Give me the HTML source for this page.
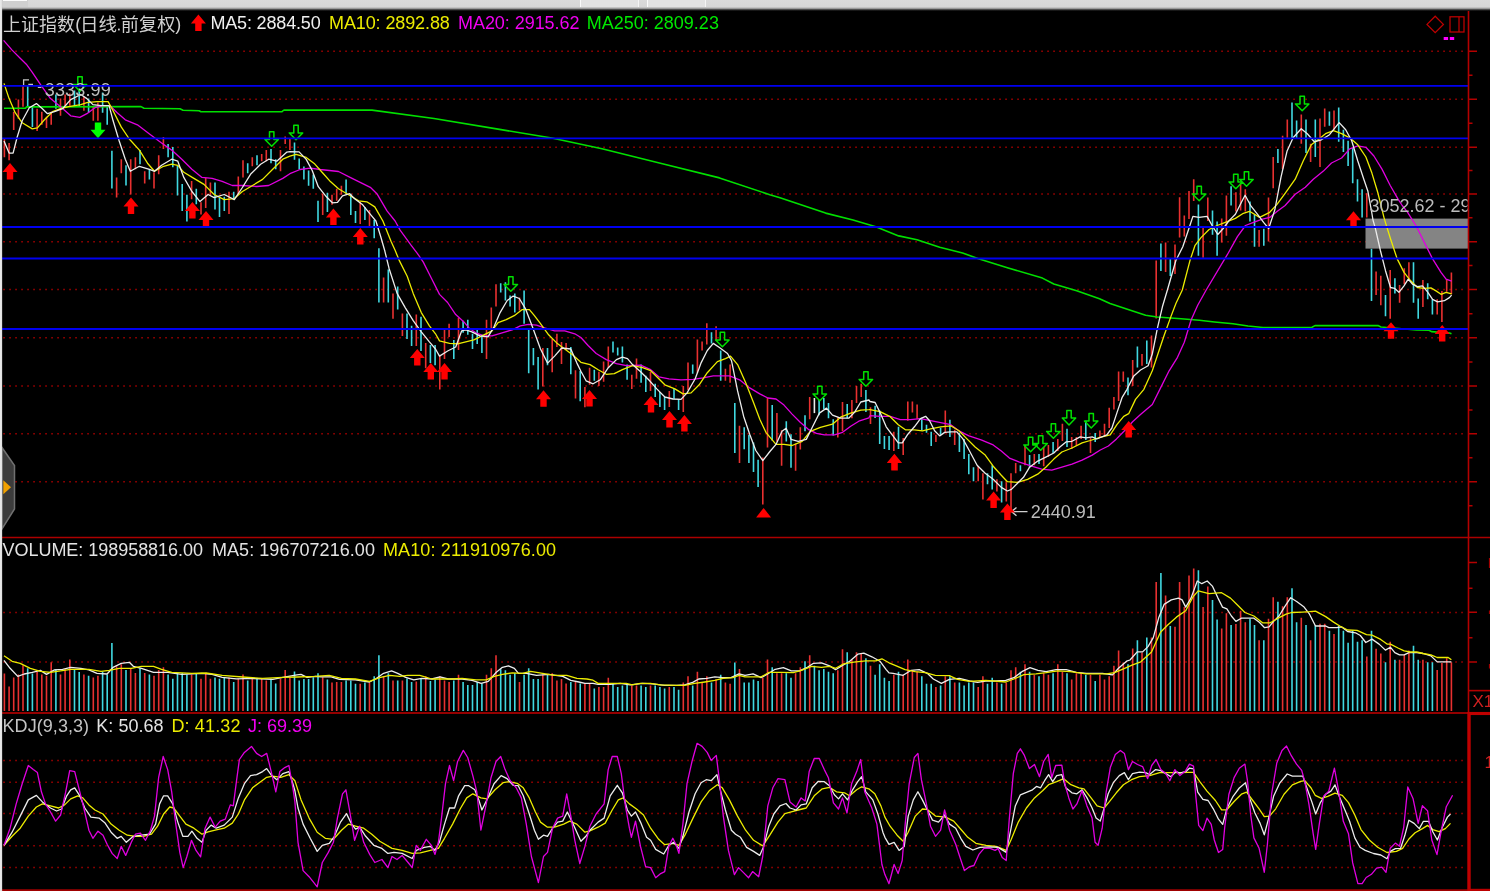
<!DOCTYPE html><html><head><meta charset="utf-8"><title>chart</title><style>
html,body{margin:0;padding:0;background:#000;overflow:hidden}
body{width:1490px;height:891px;position:relative;font-family:"Liberation Sans",sans-serif}
svg{position:absolute;left:0;top:0;will-change:transform}
text{font-family:"Liberation Sans",sans-serif;font-size:18px}
.topbar{position:absolute;left:0;top:0;width:1490px;height:11px;background:linear-gradient(#dadada 0,#d6d6d6 7px,#9a9a9a 8.5px,#383838 9.8px,#000 11px)}
.tb{position:absolute;top:0;height:6.5px;background:#e2e2e2;border-left:1.5px solid #fafafa;border-right:1.5px solid #f4f4f4;box-sizing:border-box}
.lstrip{position:absolute;left:0;top:0;width:2.6px;height:891px;background:linear-gradient(90deg,#ececec 0,#e2e2e2 1.5px,#a8a8a8 2.1px,rgba(0,0,0,0) 2.6px)}
</style></head><body>
<svg width="1490" height="891" viewBox="0 0 1490 891">
<rect width="1490" height="891" fill="#000"/>
<g id="dots">
<line x1="3.3" y1="51.2" x2="1464" y2="51.2" stroke="#a80000" stroke-width="1.5" stroke-dasharray="1.5 4.5"/>
<line x1="3.3" y1="99.2" x2="1464" y2="99.2" stroke="#a80000" stroke-width="1.5" stroke-dasharray="1.5 4.5"/>
<line x1="3.3" y1="147.2" x2="1464" y2="147.2" stroke="#a80000" stroke-width="1.5" stroke-dasharray="1.5 4.5"/>
<line x1="3.3" y1="193.9" x2="1464" y2="193.9" stroke="#a80000" stroke-width="1.5" stroke-dasharray="1.5 4.5"/>
<line x1="3.3" y1="241.7" x2="1464" y2="241.7" stroke="#a80000" stroke-width="1.5" stroke-dasharray="1.5 4.5"/>
<line x1="3.3" y1="289.6" x2="1464" y2="289.6" stroke="#a80000" stroke-width="1.5" stroke-dasharray="1.5 4.5"/>
<line x1="3.3" y1="337.8" x2="1464" y2="337.8" stroke="#a80000" stroke-width="1.5" stroke-dasharray="1.5 4.5"/>
<line x1="3.3" y1="385.9" x2="1464" y2="385.9" stroke="#a80000" stroke-width="1.5" stroke-dasharray="1.5 4.5"/>
<line x1="3.3" y1="433.8" x2="1464" y2="433.8" stroke="#a80000" stroke-width="1.5" stroke-dasharray="1.5 4.5"/>
<line x1="3.3" y1="481.8" x2="1464" y2="481.8" stroke="#a80000" stroke-width="1.5" stroke-dasharray="1.5 4.5"/>
<line x1="3.3" y1="612.4" x2="1464" y2="612.4" stroke="#a80000" stroke-width="1.5" stroke-dasharray="1.5 4.5"/>
<line x1="3.3" y1="662" x2="1464" y2="662" stroke="#a80000" stroke-width="1.5" stroke-dasharray="1.5 4.5"/>
<line x1="3.3" y1="760.6" x2="1464" y2="760.6" stroke="#a80000" stroke-width="1.5" stroke-dasharray="1.5 4.5"/>
<line x1="3.3" y1="782.2" x2="1464" y2="782.2" stroke="#a80000" stroke-width="1.5" stroke-dasharray="1.5 4.5"/>
<line x1="3.3" y1="813.5" x2="1464" y2="813.5" stroke="#a80000" stroke-width="1.5" stroke-dasharray="1.5 4.5"/>
<line x1="3.3" y1="845.8" x2="1464" y2="845.8" stroke="#a80000" stroke-width="1.5" stroke-dasharray="1.5 4.5"/>
<line x1="3.3" y1="867.6" x2="1464" y2="867.6" stroke="#a80000" stroke-width="1.5" stroke-dasharray="1.5 4.5"/>
</g>
<g id="pbars" stroke-width="1.6">
<path d="M4.4 139V157.2M9.1 143V160.2M13.7 111.7V129.9M18.4 99.6V118.8M23 85.5V106.7M37.1 108.7V130.9M41.8 111.7V124.8M46.5 116.8V127.9M51.2 111.7V124.8M60.5 98.6V115.8M65.1 94.5V106.7M69.8 93.5V105.7M83.9 96.6V110.7M93.3 106.7V120.8M97.9 102.6V120.8M116.6 177.4V197.6M121.3 159.2V173.3M130.7 159.2V194.5M135.4 157.2V169.3M144.7 171.3V183.4M154 172.3V188.5M158.7 155.2V174.3M163.4 137V149.1M191.6 181.1V199.3M201 202.3V214.4M205.7 178.1V207.9M210.4 182.6V195.3M229 191.7V213.9M238.3 176.6V194.2M243 160.2V177.4M252.3 157.2V166.3M261.7 154.1V161.2M266.3 150.1V161.2M280.5 150.1V171.3M285.2 136.6V144M289.9 138.6V150.1M322.7 193.7V214.9M332 194.7V204.8M336.7 188.7V200.8M341.4 185.7V194.7M360.2 201.8V224M369.5 209.9V226.1M383.6 277.4V302.5M393 293.4V318.7M402.4 313.6V335.9M416.3 314.6V346M425.7 342.9V368.2M439.8 355.1V389.4M444.5 329.8V359.1M449.1 323.7V336.9M458.5 317.7V350M486.5 319.7V359.1M491.3 307.6V329.8M496 284.3V306.6M519.5 297.5V310.6M542.8 348V386.4M552.2 338.9V372.2M556.9 333.8V347M561.5 341.9V364.1M566.1 342.9V350M575.5 370.2V398.5M584.9 387.1V407.3M589.6 367.7V384.8M598.9 371.7V385.9M603.6 361.6V381.8M608.3 346.5V367.7M631.8 374.7V388.9M636.5 358.6V378.8M650.5 371.7V390.9M669.3 390.9V407.1M683.3 385.9V412.1M688 362.6V389.9M697.4 339.4V372.7M702.1 341.4V350.5M706.8 323.2V344.4M716.1 326.3V340.4M725.4 368.7V380.8M730.1 364.6V382.8M739.5 425.8V462.9M762.8 457.6V504.5M767.5 398V447.5M776.9 413.1V441.4M781.6 430.3V465.7M795.6 443.4V470.7M800.3 427.3V449.5M809.7 397V419.2M837.8 417.2V437.4M842.5 402V431.3M851.9 400V418.2M856.5 385.9V403M861.2 383.8V397M870.5 407.3V424M893.8 431.8V451M903.2 437.9V455.1M907.8 401.5V420.7M912.4 401.5V412.6M917.1 404.5V418.7M935.9 434.8V441.9M945.3 410.6V432.8M954.7 429.8V444.9M978.2 466.2V481.3M982.9 473.2V499.5M996.9 479.3V491.4M1006.3 482.3V501.5M1011 473.2V511.6M1015.7 463.1V473.2M1025 444.9V465.2M1034.3 454V465.2M1043.7 447V466.2M1048.4 444.9V457.1M1057.8 438.9V451M1062.4 423.7V440.9M1071.7 436.9V449M1076.4 436.9V446M1081.1 425.8V438.9M1090.5 437.9V453M1099.9 430.6V438.1M1104.5 423.8V436.5M1109.2 407.8V428M1113.9 396.9V409.5M1118.6 371.6V401.1M1123.3 371.6V381.8M1132.7 359.9V386M1142 354V365.8M1151.5 335.5V367.4M1156.2 260.5V318.6M1165.6 242.6V271.9M1175 244.6V273.9M1179.6 197.2V237.6M1184.3 215.4V236.6M1189 190.9V219M1193.7 179.2V201M1203.1 227.5V257.8M1207.8 197.4V221M1221.7 218.6V242.6M1226.4 195.4V235.8M1235.9 192.3V211.5M1240.6 183.2V210.5M1245.3 189.3V211.5M1259.1 229.9V246.7M1268.5 197.4V241.6M1273.2 157V188.3M1282.6 135.8V169.1M1287.3 119.6V137.8M1301.3 114.5V143.8M1310.6 143.8V162M1320 118.6V167.1M1324.7 108.5V126.7M1334 110.5V129.7M1366.8 193.3V217.6M1376.1 271.5V295.1M1380.8 275.8V305.2M1390.2 269.9V318.7M1399.6 285V302.7M1404.3 268.2V284.2M1408.9 262.3V279.1M1422.9 280V306.9M1437.2 299.3V314.5M1441.9 290.9V322.1M1446.7 279.1V291.8M1451.4 272.4V294.3" stroke="#e83030" fill="none"/>
<path d="M27.7 85.5V106.7M32.4 106.7V126.9M55.9 94.5V108.7M74.5 90.5V106.7M79.2 88.5V106.7M88.6 98.6V112.7M102.6 92.5V112.7M107.2 106.7V124.8M111.9 150.7V188.5M126 165.3V185.5M140 150.1V164.2M149.4 169.3V179.4M168.1 144V157.2M172.8 147.1V167.3M177.5 165.3V195.6M182.2 184.1V210.9M186.9 194.7V221.5M196.3 188.7V204.3M215 182.6V209.4M219.5 196.8V217M224.3 196.8V210.9M233.7 191.7V199.3M247.7 163.2V173.3M257 155.2V165.3M271 149.1V163.2M275.7 159.2V169.3M294.5 142.6V159.8M299.2 158.4V169.5M303.9 166.5V179.6M308.6 170.5V185.7M313.3 174.5V188.7M318 200.8V222M327.4 192.7V211.9M346.1 179.6V193.7M350.8 193.7V214.9M355.5 210.9V223M364.9 206.9V220M374.2 220V238.2M378.9 248.3V302.5M388.3 269.5V302.5M397.7 286.4V309.6M407 313.6V338.9M411.6 325.8V346M421 316.7V351M430.4 344.9V363.1M435.1 344.9V365.2M453.8 339.9V359.1M463.1 320.7V332.8M467.8 319.7V334.8M472.5 333.8V349M477.2 329.8V343.9M481.9 334.8V353M500.7 283.3V292.4M505.4 282.3V300.5M510.1 295.5V306.6M514.8 293.4V312.6M524.1 290.4V323.7M528.7 329.8V373.2M533.4 348V365.2M538.1 357.1V389.4M547.5 348V365.2M570.8 347V374.2M580.2 371V401.3M594.3 369.7V380.8M613 341.4V352.5M617.7 347.5V355.6M622.4 346.5V362.6M627.1 364.6V379.8M641.1 364.6V382.8M645.8 375.8V391.9M655.2 383.8V397M659.9 391.9V407.1M664.6 397V410.1M674 388.9V399M678.6 399V410.1M692.7 364.6V373.7M711.5 332.3V343.4M720.7 350.5V380.8M734.8 403V453M744.2 427.3V449.2M748.9 434.8V462.9M753.5 442.4V472M758.1 459.8V487.1M772.2 405.1V440.4M786.3 421.2V441.4M791 434.3V467.7M805 415.2V431.3M819.1 400V415.2M823.8 398V409.1M828.5 403V418.2M833.2 419.2V435.4M847.2 404V418.2M865.9 389.9V412.1M875.1 405.8V417.9M879.7 410.6V443.9M884.4 435.9V449M889.1 435.9V450M898.5 426.8V449M921.8 417.7V430.8M926.5 424.7V432.8M931.2 431.8V446M940.6 427.8V434.8M949.9 419.7V436.9M959.4 432.8V452M964.1 438.9V459.1M968.8 454V474.2M973.5 467.2V481.3M987.5 473.2V484.3M992.2 465.2V489.4M1001.6 481.3V502.5M1020.4 465.2V471.2M1029.6 455.1V467.2M1039 454V464.1M1053.1 441.9V453M1067 428.8V447M1085.8 420.7V439.9M1095.2 433V442.1M1128 377.5V395.2M1137.4 346.4V367.4M1146.8 340.5V364.1M1160.9 243.6V270.9M1170.3 258.8V276M1198.4 204.4V255.8M1212.5 210.5V234.7M1217.1 221.6V255.8M1231.1 186.3V205.5M1250 201.4V221.6M1254.5 214.5V246.7M1263.8 228.7V245.7M1277.9 148.9V163M1292 102.4V138.8M1296.6 120.6V137.8M1306 119.6V152.9M1315.3 119.6V157M1329.4 111.5V125.7M1338.7 107.5V141.8M1343.4 129.7V151.9M1348.1 140.8V166.1M1352.7 147.9V183.2M1357.5 179.2V201.4M1362.1 189.3V217.6M1371.5 248.8V301M1385.5 295.1V316.2M1394.9 278.3V293.4M1413.5 262.3V302.7M1418.2 298.5V318.7M1427.7 283.3V299.3M1432.4 299.3V314.5" stroke="#40d8e0" fill="none"/>
<path d="M814.4 398V413.1" stroke="#ececec" fill="none"/>
</g>
<rect x="1365.5" y="218.6" width="103" height="30" fill="#848484"/>
<g id="ma" fill="none" stroke-width="1.3" stroke-linejoin="round">
<polyline points="4,108.3 25.5,108.3 26.5,106.9 141,106.6 144,108.3 180,108.7 183,110.3 199,110.7 201,111.7 282,111.7 284,110 372,110.1 434,118.5 501,129.6 551.7,138 602,148.7 662.4,163.8 719.5,177.9 769.8,194.7 780,197.8 825.6,213.1 853,220 875.8,226.8 898.7,235.9 917,239.8 939.7,247.3 962.6,253 978.5,258.7 1008.2,267.9 1042.4,278.1 1053.8,284 1076.7,290.7 1099.5,298.7 1110,303.5 1130.4,310.2 1145.6,315.3 1157,317 1181,318.8 1199.4,320.3 1214.6,322 1233,323.7 1248,326 1263,327.5 1312,327.3 1315,325.6 1378,325.5 1381,327 1416.6,330 1429,330.2 1431.5,331.6 1449.4,333 1451.5,333.8" stroke="#00e000" stroke-width="1.6"/>
<polyline points="3.6,40.4 12.1,50.1 20.2,58.2 26.3,64.2 32.3,72.3 40.4,84.4 50.5,98.6 60.6,106.7 70.7,115.8 79.8,117.4 86.9,113.7 94.9,107.7 103,105.7 110.1,105.7 117.2,112.7 125.3,119.8 137.4,124.8 149.5,133.9 161.6,143 171.7,150.1 181.8,159.2 191.9,169.3 202,177.4 212.1,178.4 222.2,181.4 232.3,185.5 242.4,185.5 256.6,186.5 268.7,185.5 282.8,178.4 289.9,173.7 300.1,169.5 310.2,168.1 320.3,169.5 338.5,171.5 350.6,177.6 360.7,182.6 370.8,187.7 376.9,193.7 387,210.9 395.1,221 400.1,230.1 411.2,245.3 417.3,253.3 423.3,262.1 431.4,278.3 439.5,294.4 447.6,302.5 455.7,314.6 463.7,321.7 469.8,328.8 475.9,332.8 483.9,335.9 492,335.9 502.1,332.8 512.2,329.8 520.3,325.8 528.4,324.3 536.5,325.2 544.5,327.8 554.6,330.8 564.7,330.8 574.8,333.8 580.9,337.5 588.1,345.5 596.2,353.5 606.3,359.6 616.4,363.6 626.5,365.7 640.6,365.1 650.7,369.7 658.8,376.8 668.9,378.8 681,379.8 693.1,379.4 703.2,377.8 713.3,375.8 729.5,375.8 739.6,379.8 749.7,387.9 759.8,393.9 767.9,398 776,399 784,405.1 792.1,414.1 800.2,422.2 808.3,429.3 816.4,433.3 824.4,434.9 834.5,434.9 842.6,432.3 850.7,426.3 858.8,421.2 868.9,417.8 870,415.7 880.1,416.3 890.2,416.3 900.3,419.7 910.4,419.7 920.5,418.7 930.6,420.7 940.7,422.7 950.8,424.7 958.9,430.8 969,435.9 981.1,439.9 993.2,444.9 1001.3,451 1009.4,458.1 1019.5,462.1 1031.6,466.2 1041.7,469.2 1051.8,470.2 1061.9,467.2 1072,464.1 1082.1,460.1 1092.2,455.1 1100.3,450 1108.4,446 1116.5,438.9 1124.5,430.8 1132.6,421.7 1140.5,414.6 1152.3,404.5 1160.7,387.6 1169.1,370.8 1177.5,357.3 1184.3,342.2 1191,320.3 1197.7,305.2 1206.2,290 1227.3,254.7 1237.4,236.6 1245.5,225.5 1253.5,222.4 1261.6,219.4 1269.7,217.4 1277,211.5 1285.1,205.5 1295.2,194.3 1305.3,187.3 1313.3,179.2 1323.4,171.1 1331.5,163 1341.6,158 1349.7,148.9 1357.8,145.9 1365.9,147.3 1373.9,156 1382,169.1 1390.1,185.3 1398.2,199.4 1402.2,205.5 1407.3,211.8 1415.8,225.3 1424.2,242.1 1432.6,258.9 1441,272.4 1446.1,279.1 1451.6,281.1" stroke="#e000e0"/>
<polyline points="4,83.4 9.1,98.6 15.2,112.7 22.2,122.8 32.3,128.9 37.4,127.9 44.4,119.8 52.5,111.7 60.6,108.7 68.7,106.7 80.8,104.6 86.9,102.6 97,101.6 108.1,101.6 113.1,110.7 121.2,126.9 129.3,139 139.4,150.1 147.5,163.2 154.5,171.3 163.6,166.3 171.7,164.2 177.8,165.3 183.8,172.3 193.9,178.4 204,184.4 214.1,194.5 224.2,199.6 234.3,198.6 242.4,191.5 252.5,185.5 262.6,179.4 272.7,169.3 282.8,159.2 289.9,156.2 296.1,154.3 306.2,157.4 314.2,163.4 322.3,172.5 330.4,181.6 338.5,188.7 348.6,194.7 358.7,200.8 366.8,201.8 374.8,206.9 382.9,221 391,241.2 395.1,250.3 399.1,260.1 407.2,276.3 413.2,293.4 421.3,312.6 429.4,325.8 435.5,333.8 439.5,340.9 449.6,343.3 457.7,343.9 465.8,341.9 473.8,339.9 481.9,335.9 492,330.8 498.1,322.7 506.2,319.7 514.2,315.7 522.3,309.6 529.4,309.6 534.4,315.7 540.5,323.7 548.6,334.8 556.7,342.9 564.7,349 572.8,355.1 580.9,362.3 590.1,364.6 598.2,369.7 606.3,374.3 614.3,373.7 622.4,369.7 632.5,365.7 642.6,367.7 650.7,370.7 656.8,376.8 664.8,384.8 674.9,388.9 683,393.9 691.1,392.9 699.2,384.8 707.3,372.7 717.4,361.6 725.5,358.6 730.5,356.2 737.6,364.6 745.7,382.8 753.7,403 759.8,419.2 765.9,432.3 776,444.4 784,444.4 792.1,445.5 802.2,441.4 810.3,431.3 820.4,427.3 832.5,424.2 840.6,417.2 850.7,413.1 860.8,410.1 868.9,409.7 870,409.6 880.1,411.6 890.2,416.7 898.3,424.7 905.4,429.8 914.4,429.8 922.5,430.8 930.6,428.8 940.7,426.8 950.8,425.8 958.9,430.8 967,438.9 975.1,447 985.2,455.1 993.2,466.2 1001.3,475.3 1007.4,481.7 1017.5,482.3 1027.6,479.3 1037.7,474.2 1045.8,467.2 1053.8,459.1 1061.9,452 1072,448 1082.1,442.9 1090.2,440.5 1100.1,437.3 1110.2,434.8 1116.9,424.7 1123.7,416.3 1128.7,413.7 1135.5,399.4 1143.9,389.3 1152.3,370.8 1157.3,355.7 1164.1,335.5 1170.8,316.9 1175.9,303.5 1182.3,290 1189.9,260.8 1194.9,245.7 1201,237.6 1209.1,229.5 1217.2,225.5 1225.3,222.4 1235.4,218.4 1243.4,213.3 1249.5,211.3 1259.6,217.4 1269.7,212.3 1277,204.4 1285.1,193.3 1295.2,179.2 1303.2,161 1311.3,144.8 1319.4,138.8 1325.5,133.7 1333.5,130.7 1341.6,133.7 1349.7,137.8 1357.8,144.8 1365.9,157 1371.9,173.1 1378,193.3 1384,217.6 1386.1,224.6 1390.5,238.7 1397.2,258.9 1404,272.4 1410.7,280.8 1417.4,287.5 1424.2,288.4 1430.9,287.9 1436,290.9 1441,294.3 1446.1,292.3 1451.6,293.9" stroke="#ecec00"/>
<polyline points="4,141 9.1,153.1 13.1,153.1 17.2,137 22.2,120.8 29.3,107.7 36.4,103.6 42.4,108.7 47.5,113.7 54.5,111.7 62.6,108.7 70.7,99.6 80.8,94.5 86.9,98.6 92.9,104.6 101,105.7 109.1,105.7 113.1,120.8 119.2,141 125.3,159.2 130.3,171.3 139.4,166.3 149.5,169.3 154.5,171.3 161.6,165.3 171.7,159.2 177.8,161.2 183.8,177.4 191.9,191.5 200,201.6 208.1,194.5 214.1,197.6 224.2,194.5 234.3,199.6 242.4,187.5 250.5,174.3 260.6,164.2 268.7,159.2 276.8,161.2 286.9,152.1 289.9,151.7 299.1,151.9 306.2,159.4 312.2,170.5 318.3,186.7 326.4,196.8 332.4,202.8 337.5,202.4 342.5,195.8 349.6,193.7 354.6,198.8 362.7,204.8 370.8,214.9 375.9,221 380.9,237.2 384.9,251.3 389,268.2 397.1,293.4 405.2,307.6 413.2,320.7 421.3,331.8 429.4,341.9 435.5,349 439.5,356.1 447.6,351 455.7,347 461.7,330.8 465.8,329.8 471.8,331.8 479.9,335.9 488,336.9 494,326.8 500.1,312.6 507.2,300.5 513.2,296.1 519.3,298.5 525.4,308.6 532.4,326.8 540.5,349 547.6,363.1 554.6,356.1 561.7,348 570.8,349 576.9,363.1 580.9,371.2 586.1,380.8 593.1,383.8 600.2,379.8 608.3,367.7 616.4,359.6 622.4,357.2 627.5,358.6 632.5,364.6 640.6,371.7 648.7,379.8 656.8,388.9 664.8,397 672.9,399 681,399.4 687.1,392.9 695.2,378.8 701.2,362.6 707.3,350.5 713.3,343.4 719.4,347.5 727.5,353.5 731.5,360.6 737.6,390.9 743.6,416.2 749.7,434.3 755.8,450.5 762.8,460.6 769.9,451.5 776,444.4 782,431.3 786.1,428.3 791.1,439.4 798.2,441.4 806.3,439.4 812.3,427.3 819.4,413.1 826.5,408.1 832.5,415.2 840.6,418.2 848.7,418.2 854.7,412.1 860.8,402 868.9,400 870,401.5 875.1,402.5 880.1,412.6 886.2,426.8 892.2,434.8 898.3,442.9 902.3,442.9 907.4,434.8 914.4,426.8 920.5,418.7 925.6,416.3 929.6,420.7 934.6,430.8 939.7,435.9 944.7,432.4 950.8,431.8 956.9,431.8 962.9,438.9 969,450 977.1,465.2 985.2,473.2 993.2,479.3 1001.3,487.4 1007.4,491 1011.4,489.4 1017.5,483.3 1023.5,477.3 1029.6,467.2 1037.7,461.1 1045.8,457.1 1053.8,453 1059.9,447 1066,441.9 1072,441.3 1080.1,436.9 1086.2,437.9 1092.2,436.9 1096.7,439 1106.8,434.8 1111.9,428 1116.9,412.9 1122,397.7 1127,389.3 1133.8,375.9 1140.5,370 1148.1,365.8 1152.3,354 1157.3,328.7 1162.4,306.8 1167.4,290 1175.8,260.8 1182.8,246.7 1188.9,228.5 1192.9,216.4 1199,217.4 1207.1,216.4 1212.1,225.5 1217.8,234.5 1223.2,228.5 1229.3,220.4 1235.4,214.3 1241.4,202.2 1245.1,195.2 1250.5,205.3 1257.6,214.3 1263.6,222.4 1268.7,228.5 1274.9,209.5 1281,177.2 1287.1,150.9 1293.1,137.8 1301.2,128.7 1307.3,133.7 1314.3,141.8 1321.4,139.8 1329.5,134.7 1339.2,122.6 1345.7,129.7 1351.7,140.8 1357.8,161 1363.8,179.2 1367.9,191.3 1371.9,213.5 1372.9,219.6 1375.4,228.6 1380.4,250.5 1385.5,270.7 1390.5,287.5 1394.7,288.4 1398.9,292.3 1404,285.9 1408.2,279.1 1412.4,284.2 1417.4,286.7 1422.5,285.9 1427.5,291.8 1432.6,299.3 1437.6,301.9 1444.4,300.7 1449.4,297.6 1451.6,295.1" stroke="#ececec"/>
</g>
<clipPath id="cl"><rect x="0" y="0" width="1467.7" height="891"/></clipPath>
<g clip-path="url(#cl)"><text x="1369.5" y="212.4" fill="#bcbcbc">3052.62 - 2985.00</text></g>
<text x="1030.8" y="518" fill="#bcbcbc">2440.91</text>
<path d="M1011.5 511.6H1027.5M1016.5 507.5L1011.5 511.6L1016.5 515.7" stroke="#d0d0d0" stroke-width="1.4" fill="none"/>
<path d="M10 163l7.5 9h-4.3v7.5h-6.4v-7.5h-4.3zM131 197.5l7.5 9h-4.3v7.5h-6.4v-7.5h-4.3zM192.4 202l7.5 9h-4.3v7.5h-6.4v-7.5h-4.3zM206 211l7.5 9h-4.3v7.5h-6.4v-7.5h-4.3zM333.4 208.5l7.5 9h-4.3v7.5h-6.4v-7.5h-4.3zM360.3 228l7.5 9h-4.3v7.5h-6.4v-7.5h-4.3zM417.3 349l7.5 9h-4.3v7.5h-6.4v-7.5h-4.3zM430.8 363l7.5 9h-4.3v7.5h-6.4v-7.5h-4.3zM444.5 363l7.5 9h-4.3v7.5h-6.4v-7.5h-4.3zM543.5 390.3l7.5 9h-4.3v7.5h-6.4v-7.5h-4.3zM589.5 390l7.5 9h-4.3v7.5h-6.4v-7.5h-4.3zM651 396l7.5 9h-4.3v7.5h-6.4v-7.5h-4.3zM669.5 411l7.5 9h-4.3v7.5h-6.4v-7.5h-4.3zM684.4 415l7.5 9h-4.3v7.5h-6.4v-7.5h-4.3zM894.6 454l7.5 9h-4.3v7.5h-6.4v-7.5h-4.3zM894.4 453.8l7.5 9h-4.3v7.5h-6.4v-7.5h-4.3zM993.6 491.5l7.5 9h-4.3v7.5h-6.4v-7.5h-4.3zM1007.4 503.5l7.5 9h-4.3v7.5h-6.4v-7.5h-4.3zM1128.7 421l7.5 9h-4.3v7.5h-6.4v-7.5h-4.3zM1353.5 211.2l7.5 9h-4.3v7.5h-6.4v-7.5h-4.3zM1391 322.2l7.5 9h-4.3v7.5h-6.4v-7.5h-4.3zM1442.2 325l7.5 9h-4.3v7.5h-6.4v-7.5h-4.3z" fill="#ff0000"/>
<path d="M763.6 507.9l7.5 9.5h-15z" fill="#ff0000"/>
<path d="M77.8 76.7h4.4v7.7h4.5l-6.7 6.9l-6.7 -6.9h4.5zM269.5 131.7h4.4v7.7h4.5l-6.7 6.9l-6.7 -6.9h4.5zM293.8 125.2h4.4v7.7h4.5l-6.7 6.9l-6.7 -6.9h4.5zM508.6 276.7h4.4v7.7h4.5l-6.7 6.9l-6.7 -6.9h4.5zM720.2 332.2h4.4v7.7h4.5l-6.7 6.9l-6.7 -6.9h4.5zM817.6 386.2h4.4v7.7h4.5l-6.7 6.9l-6.7 -6.9h4.5zM863.7 371.7h4.4v7.7h4.5l-6.7 6.9l-6.7 -6.9h4.5zM1028.4 437.2h4.4v7.7h4.5l-6.7 6.9l-6.7 -6.9h4.5zM1038.5 435.7h4.4v7.7h4.5l-6.7 6.9l-6.7 -6.9h4.5zM1051.2 423.7h4.4v7.7h4.5l-6.7 6.9l-6.7 -6.9h4.5zM1066.8 410.4h4.4v7.7h4.5l-6.7 6.9l-6.7 -6.9h4.5zM1089 413.4h4.4v7.7h4.5l-6.7 6.9l-6.7 -6.9h4.5zM1197 186.2h4.4v7.7h4.5l-6.7 6.9l-6.7 -6.9h4.5zM1233.6 174.2h4.4v7.7h4.5l-6.7 6.9l-6.7 -6.9h4.5zM1244.3 171.7h4.4v7.7h4.5l-6.7 6.9l-6.7 -6.9h4.5zM1300 96.2h4.4v7.7h4.5l-6.7 6.9l-6.7 -6.9h4.5z" fill="none" stroke="#00e000" stroke-width="1.5" stroke-linejoin="round"/>
<path d="M94.8 122.4h6.4v7.3h4.3l-7.5 8.5l-7.5 -8.5h4.3z" fill="#00ff00"/>
<text x="44.7" y="95.5" fill="#c0c0c0" textLength="66.1" lengthAdjust="spacing" style="font-size:18.0px">3333.99</text>
<path d="M23.6 85V79.8H29M28.3 84.4H33M37.8 87.3H41.4" stroke="#c4c4c4" stroke-width="1.3" fill="none"/>
<g id="blue" stroke="#0000f0" stroke-width="1.9">
<line x1="2" y1="85.9" x2="1468" y2="85.9"/>
<line x1="2" y1="138.4" x2="1468" y2="138.4"/>
<line x1="2" y1="227" x2="1468" y2="227"/>
<line x1="2" y1="258.5" x2="1468" y2="258.5"/>
<line x1="2" y1="329" x2="1468" y2="329"/>
</g>
<g stroke="#b40000">
<line x1="2" y1="537.5" x2="1490" y2="537.5" stroke-width="1.7" stroke="#ac0000"/>
<line x1="2" y1="713" x2="1468" y2="713" stroke-width="2" stroke="#940000"/>
<line x1="1468" y1="713.5" x2="1490" y2="713.5" stroke-width="3.1" stroke="#c00000"/>
<line x1="2" y1="890.2" x2="1468" y2="890.2" stroke-width="2" stroke="#a00000"/>
<line x1="1468" y1="890" x2="1490" y2="890" stroke-width="2.4" stroke="#bc0000"/>
<line x1="1468.5" y1="9.5" x2="1468.5" y2="712" stroke-width="1.6"/>
<line x1="1469" y1="712" x2="1469" y2="891" stroke-width="3.4" stroke="#c00000"/>
<line x1="1468.5" y1="690.6" x2="1490" y2="690.6" stroke-width="1.6"/>
<path d="M1468.5 51.2H1477M1468.5 99.2H1477M1468.5 147.2H1477M1468.5 193.9H1477M1468.5 241.7H1477M1468.5 289.6H1477M1468.5 337.8H1477M1468.5 385.9H1477M1468.5 433.8H1477M1468.5 481.8H1477M1468.5 562.6H1477M1468.5 612.2H1477M1468.5 662H1477M1468.5 75.2H1472.5M1468.5 123.2H1472.5M1468.5 170.6H1472.5M1468.5 217.8H1472.5M1468.5 265.6H1472.5M1468.5 313.7H1472.5M1468.5 361.9H1472.5M1468.5 409.9H1472.5M1468.5 457.8H1472.5M1468.5 505.8H1472.5M1468.5 588.3H1472.5M1468.5 637.8H1472.5" stroke-width="1.5" fill="none"/>
</g>
<path d="M1489.5 558V568M1489.5 610.5V614M1489.5 664V668.5" stroke="#a00000" stroke-width="1.2"/>
<text x="1472.5" y="707.3" fill="#d02020" style="font-size:17px">X1</text>
<text x="1484.5" y="767.5" fill="#d02020" style="font-size:17px">1</text>
<g fill="none" stroke="#c00000" stroke-width="1.25">
<path d="M1435.2 16.2L1443.4 24.4L1435.2 32.6L1427 24.4Z"/>
<rect x="1450" y="16.8" width="14" height="15.2"/><line x1="1459" y1="16.8" x2="1459" y2="32"/>
</g>
<rect x="1443.7" y="37" width="4.4" height="3" fill="#ff00ff"/><rect x="1449.8" y="37" width="4.4" height="3" fill="#ff00ff"/>
<path d="M2 447.5L14.5 465.5V509L2 529Z" fill="#3c3c3c" stroke="#707070" stroke-width="1.5"/>
<path d="M3.3 480.2L11 487.3L3.3 494.3Z" fill="#f0a000"/>
<g id="vbars" stroke-width="1.6" fill="none">
<path d="M4.4 673.4V710.9M9.1 686.5V710.9M13.7 677.4V710.9M18.4 674.4V710.9M23 665.3V710.9M37.1 671.4V710.9M41.8 674.4V710.9M46.5 675.8V710.9M51.2 662.3V710.9M60.5 674.4V710.9M65.1 669.3V710.9M69.8 659.6V710.9M83.9 674.4V710.9M93.3 677.4V710.9M97.9 675.8V710.9M116.6 666.3V710.9M121.3 664.3V710.9M130.7 668.3V710.9M135.4 673V710.9M144.7 673V710.9M154 675.8V710.9M158.7 669.9V710.9M163.4 667.3V710.9M191.6 674.4V710.9M201 678.8V710.9M205.7 673V710.9M210.4 678.8V710.9M229 677.4V710.9M238.3 678.8V710.9M243 674.4V710.9M252.3 678.8V710.9M261.7 678.8V710.9M266.3 680.5V710.9M280.5 678.8V710.9M285.2 669.9V710.9M289.9 677.4V710.9M322.7 677.3V710.9M332 682.4V710.9M336.7 682V710.9M341.4 682V710.9M360.2 683.8V710.9M369.5 682.4V710.9M383.6 676.3V710.9M393 680.4V710.9M402.4 680.4V710.9M416.3 681.4V710.9M425.7 676.3V710.9M439.8 676.3V710.9M444.5 680.4V710.9M449.1 682V710.9M458.5 674.7V710.9M486.5 674.7V710.9M491.3 668.3V710.9M496 655.2V710.9M519.5 682V710.9M542.8 674.7V710.9M552.2 673.3V710.9M556.9 680.4V710.9M561.5 679V710.9M566.1 683.4V710.9M575.5 682V710.9M584.9 683.4V710.9M589.6 683.4V710.9M598.9 687V710.9M603.6 687V710.9M608.3 677.7V710.9M631.8 685.4V710.9M636.5 685.4V710.9M650.5 685.4V710.9M669.3 687V710.9M683.3 682.4V710.9M688 676.3V710.9M697.4 671.7V710.9M702.1 682.4V710.9M706.8 676.3V710.9M716.1 679.4V710.9M725.4 682.4V710.9M730.1 683.8V710.9M739.5 668.9V710.9M762.8 677.7V710.9M767.5 659.6V710.9M776.9 673.3V710.9M781.6 673.3V710.9M795.6 673.3V710.9M800.3 667.3V710.9M809.7 655.2V710.9M837.8 670.3V710.9M842.5 649.2V710.9M851.9 659.6V710.9M856.5 652.2V710.9M861.2 653.6V710.9M870.5 665.7V710.9M893.8 674.7V710.9M903.2 674.7V710.9M907.8 659.6V710.9M912.4 670.3V710.9M917.1 671.7V710.9M935.9 687V710.9M945.3 676.3V710.9M954.7 682.4V710.9M978.2 687V710.9M982.9 676.3V710.9M996.9 682.4V710.9M1006.3 682.4V710.9M1011 670.3V710.9M1015.7 667.3V710.9M1025 664.3V710.9M1034.3 674.7V710.9M1043.7 673.3V710.9M1048.4 674.7V710.9M1057.8 664.3V710.9M1062.4 671.7V710.9M1071.7 679.4V710.9M1076.4 673.3V710.9M1081.1 673.3V710.9M1090.5 674.7V710.9M1099.9 674.7V710.9M1104.5 679.4V710.9M1109.2 676.3V710.9M1113.9 665.7V710.9M1118.6 650.6V710.9M1123.3 662.6V710.9M1132.7 648.4V710.9M1142 652.8V710.9M1151.5 637.6V710.9M1156.2 581.9V710.9M1165.6 595.4V710.9M1175 626.8V710.9M1179.6 581.9V710.9M1184.3 607.1V710.9M1189 575.6V710.9M1193.7 568.5V710.9M1203.1 607.1V710.9M1207.8 586.4V710.9M1221.7 628.6V710.9M1226.4 613.3V710.9M1235.9 624.1V710.9M1240.6 610.7V710.9M1245.3 622.3V710.9M1259.1 640.3V710.9M1268.5 618.7V710.9M1273.2 597.2V710.9M1282.6 606.2V710.9M1287.3 597.2V710.9M1301.3 617.8V710.9M1310.6 640.2V710.9M1320 623.7V710.9M1324.7 623.7V710.9M1334 633.9V710.9M1366.8 656.4V710.9M1376.1 648.8V710.9M1380.8 653.5V710.9M1390.2 641.8V710.9M1399.6 659.8V710.9M1404.3 655.1V710.9M1408.9 650.4V710.9M1422.9 659.8V710.9M1437.2 670V710.9M1441.9 663V710.9M1446.7 658.2V710.9M1451.4 662.2V710.9" stroke="#e83030"/>
<path d="M27.7 668.3V710.9M32.4 673.4V710.9M55.9 669.3V710.9M74.5 669.3V710.9M79.2 672V710.9M88.6 675.8V710.9M102.6 671.4V710.9M107.2 674.4V710.9M111.9 643.1V710.9M126 669.9V710.9M140 668.3V710.9M149.4 674.4V710.9M168.1 674.4V710.9M172.8 678.8V710.9M177.5 673V710.9M182.2 673V710.9M186.9 674.4V710.9M196.3 673V710.9M215 677.4V710.9M219.5 678.8V710.9M224.3 677.4V710.9M233.7 681.9V710.9M247.7 680.5V710.9M257 678.8V710.9M271 678.8V710.9M275.7 683.5V710.9M294.5 671.4V710.9M299.2 680.4V710.9M303.9 679V710.9M308.6 679V710.9M313.3 677.3V710.9M318 673.3V710.9M327.4 679.4V710.9M346.1 680.4V710.9M350.8 680.4V710.9M355.5 683.8V710.9M364.9 682.4V710.9M374.2 676.3V710.9M378.9 655.2V710.9M388.3 673.3V710.9M397.7 680.4V710.9M407 678.4V710.9M411.6 682V710.9M421 678.4V710.9M430.4 681V710.9M435.1 679.4V710.9M453.8 680.4V710.9M463.1 682V710.9M467.8 685V710.9M472.5 685V710.9M477.2 682V710.9M481.9 683.4V710.9M500.7 669.3V710.9M505.4 670.3V710.9M510.1 674.7V710.9M514.8 673.3V710.9M524.1 674.7V710.9M528.7 668.3V710.9M533.4 679V710.9M538.1 679V710.9M547.5 674.7V710.9M570.8 682V710.9M580.2 683.4V710.9M594.3 688.4V710.9M613 683.4V710.9M617.7 687V710.9M622.4 685.4V710.9M627.1 683.4V710.9M641.1 685.4V710.9M645.8 687V710.9M655.2 685.4V710.9M659.9 687V710.9M664.6 688.4V710.9M674 687V710.9M678.6 689.8V710.9M692.7 685.4V710.9M711.5 682.4V710.9M720.7 674.7V710.9M734.8 662.6V710.9M744.2 682.4V710.9M748.9 682.4V710.9M753.5 679.4V710.9M758.1 681V710.9M772.2 667.3V710.9M786.3 673.3V710.9M791 677.7V710.9M805 661.2V710.9M814.4 665.7V710.9M819.1 670.3V710.9M823.8 668.9V710.9M828.5 671.7V710.9M833.2 673.3V710.9M847.2 652.2V710.9M865.9 658.2V710.9M875.1 674.7V710.9M879.7 664.3V710.9M884.4 677.7V710.9M889.1 681V710.9M898.5 671.7V710.9M921.8 676.3V710.9M926.5 683.8V710.9M931.2 683.8V710.9M940.6 685.4V710.9M949.9 676.3V710.9M959.4 682.4V710.9M964.1 685.4V710.9M968.8 682.4V710.9M973.5 682.4V710.9M987.5 683.8V710.9M992.2 677.7V710.9M1001.6 683.8V710.9M1020.4 671.7V710.9M1029.6 671.7V710.9M1039 676.3V710.9M1053.1 673.3V710.9M1067 673.3V710.9M1085.8 674.7V710.9M1095.2 681V710.9M1128 664.3V710.9M1137.4 640.3V710.9M1146.8 637.6V710.9M1160.9 573V710.9M1170.3 625.9V710.9M1198.4 570.3V710.9M1212.5 599.9V710.9M1217.1 619.6V710.9M1231.1 625V710.9M1250 618.7V710.9M1254.5 625V710.9M1263.8 640.3V710.9M1277.9 601.7V710.9M1292 588.2V710.9M1296.6 622.3V710.9M1306 625V710.9M1315.3 625.3V710.9M1329.4 630.8V710.9M1338.7 626V710.9M1343.4 630.8V710.9M1348.1 642.8V710.9M1352.7 630.8V710.9M1357.5 641.8V710.9M1362.1 640.2V710.9M1371.5 630.8V710.9M1385.5 662.2V710.9M1394.9 659.8V710.9M1413.5 645.7V710.9M1418.2 659.8V710.9M1427.7 662.2V710.9M1432.4 662.2V710.9" stroke="#40d8e0"/>
</g>
<g fill="none" stroke-width="1.3" stroke-linejoin="round">
<polyline points="4,660.3 10.1,668.3 17.8,676.4 24.2,674 32.3,672.4 40.4,670.4 46.5,674.4 54.5,669.9 62.6,669.3 70.7,667.3 80.8,668.3 88.9,669.9 97,673.4 107.1,674 113.1,667.3 121.2,663.3 129.3,662.3 133.3,666.3 141.4,668.3 153.5,672.4 167.7,672.4 181.8,674.4 202,673.4 212.1,674.4 222.2,677.4 236.4,678.8 252.5,678.4 272.7,679.4 282.8,677.4 297,674.8 301,674.3 307.1,677.3 315.1,676.3 321.2,676.9 331.2,676.9 339.3,679.4 355.4,679.8 369.5,682 375.5,679 383.6,673.3 391.6,670.9 397.7,673.3 405.7,677.3 413.8,679.8 421.8,678.4 431.9,679 440,676.9 448,679 462.1,679 472.2,680.4 481.2,683.4 488.3,681.4 496.3,672.3 502.4,667.3 508.4,665.9 514.4,668.3 518.5,673.3 526.5,673.3 536.6,675.3 548.7,674.3 562.8,676.3 570.8,680.4 578.9,682 584.9,683.4 593,683.4 598.1,684.4 610.1,684.4 620.2,683.4 630.3,684.8 642.3,683.4 652.4,683.8 664.5,685.4 676.6,685.4 684.6,684.8 692.7,682.4 698.7,679 706.8,678.4 714.8,676.9 722.9,677.7 730.9,677.7 739,673.9 745,675.3 753.1,673.9 761.1,677.7 767.2,674.3 775.2,669.3 783.3,667.7 791.3,670.9 799.4,670.9 807.4,667.3 813.5,663.3 821.5,662.8 829.6,665.9 835.6,669.7 841.7,665.9 849.7,661.2 857.8,654.2 863.8,653.2 871.9,656.8 879.9,661.2 886,669.3 889,672.9 893.1,673.3 903.1,675.3 911.2,670.3 919.2,669.7 927.3,673.3 933.3,679 941.4,683.4 949.4,679.4 959.5,678.4 969.6,681 977.6,682.4 985.7,681 995.7,681 1005.8,680.4 1013.9,677.7 1021.9,671.7 1030,667.7 1038,670.3 1046.1,671.7 1056.1,669.7 1066.2,669.7 1076.3,672.3 1086.3,673.3 1102.4,673.3 1112.5,674.9 1118.5,668.3 1126.6,661.2 1130,660 1137.2,651.9 1142.6,651.9 1148,646.6 1153.3,637.6 1158.7,617.8 1164.1,604.4 1171.3,599.9 1178.5,598.1 1182.1,599.9 1185.7,607.1 1191,598.1 1197.3,581 1201.8,583.7 1207.2,581 1212.6,586.4 1218,598.1 1222.5,607.1 1226.9,608.9 1231.4,616 1235.9,621.4 1241.3,618.2 1253.9,618.2 1259.3,622.3 1264.6,627.7 1269.1,626.8 1273.6,621.4 1279,616 1284.4,607.1 1290.7,597.7 1297,601.7 1304.1,607.1 1309.5,614.2 1315.5,626 1325.7,626 1328.8,627.6 1336.7,627.6 1341.4,626.8 1347.7,631.5 1355.5,632.8 1360.3,635.5 1365.8,642.5 1372,639.1 1379.1,644.1 1385.4,650.1 1390.4,647.2 1394.8,652.7 1399.5,654.8 1404.2,654.8 1408.9,652.7 1416.8,652.7 1423.1,653.5 1430.9,655.9 1437.2,661.9 1451.4,661.9" stroke="#ececec"/>
<polyline points="4,655.8 12.1,661.3 20.2,663.3 30.3,668.3 40.4,671.4 50.5,672.4 60.6,670.8 70.7,669.3 88.9,669.3 101,671.4 109.1,670.4 119.2,668.3 131.3,668.3 141.4,666.3 153.5,666.3 161.6,669.3 171.7,672.4 191.9,673.4 206.1,673 222.2,675.4 242.4,677 262.6,678.4 282.8,677.4 297,677 315.1,676.3 329.2,675.3 341.3,678.4 355.4,679 369.5,681.4 379.6,677.7 389.6,675.3 399.7,676.3 407.7,675.3 419.8,675.3 431.9,679 452,679 462.1,678.4 476.2,679.8 486.3,679.8 494.3,676.3 502.4,674.3 512.4,672.9 522.5,673.3 530.6,671.3 542.6,673.3 554.7,675.3 566.8,675.3 576.9,678.4 586.9,679 593,680.2 598.1,683.4 626.2,683.4 632.3,684.8 640.3,683.4 650.4,683.4 660.5,684.8 676.6,685.4 684.6,685.4 694.7,683.4 704.8,682 714.8,680.4 722.9,678.4 732.9,677.7 739,675.3 745,676.9 761.1,676.9 769.2,672.3 781.3,672.3 793.3,672.7 801.4,670.3 811.5,666.3 821.5,667.3 829.6,666.3 835.6,668.3 843.7,663.9 853.7,662.2 865.8,660.8 875.9,660.8 881.9,658.8 889,662.8 895.1,665.3 905.1,669.7 915.2,671.7 925.3,672.7 935.3,675.3 949.4,675.7 957.5,679.4 969.6,681.4 985.7,680.4 1005.8,682 1013.9,679 1023.9,674.7 1036,673.9 1046.1,672.7 1058.1,670.9 1070.2,671.7 1086.3,673.9 1106.5,673.9 1114.5,672.7 1124.6,668.3 1132.6,664.9 1140.8,661.8 1151.5,651.9 1160.5,632.2 1167.7,625 1176.7,616.9 1185.7,610.7 1192.8,597.2 1198.2,590.9 1209,593.6 1221.6,592.7 1230.5,598.1 1237.7,605.3 1244.9,612.5 1253.9,616 1262.9,622.9 1270,622.9 1277.2,618.7 1286.2,614.2 1291.6,612.5 1302.4,612.1 1309.5,611.7 1315.5,611.1 1325.7,616.6 1333.6,622.1 1339.8,626 1347.7,630 1357.1,630.3 1366.5,634.7 1372,635.2 1380.7,639.4 1387,644.1 1390.4,644.1 1398,648 1404.2,650.9 1410.5,652 1416.8,652 1423.1,653.5 1430.9,654.8 1437.2,657.5 1448.2,657.5 1451.4,659.8" stroke="#ecec00"/>
</g>
<g fill="none" stroke-width="1.3" stroke-linejoin="round">
<polyline points="4,845.3 12.1,836.3 20.2,828.2 28.3,816.1 36.4,807 42.4,803.9 50.5,805.9 58.6,808 64.6,804.9 70.7,798.9 77.8,795.8 82.8,797.9 88.9,804.9 94.9,810 103,814 111.1,824.1 119.2,830.2 127.3,835.2 135.4,836.3 143.4,836.3 151.5,834.2 157.6,826.2 163.6,814 169.7,807 173.7,808 179.8,816.1 185.9,824.1 193.9,828.2 202,834.2 208.1,831.8 216.2,829.8 224.2,828.2 232.3,823.1 238.4,814 244.4,799.9 252.5,787.8 260.6,781.7 266.7,777.3 272.7,776.1 280.8,777.3 288.9,774.6 294.9,780.7 301.1,799.9 309.1,818.1 317.2,832.2 325.3,838.3 333.4,839.3 341.5,830.2 348.5,824.1 355.6,826.2 363.7,828.2 371.8,834.2 379.8,841.3 392,848.4 402.1,850.4 412.2,853.4 420.3,852.8 430.4,850.4 438.4,848.4 444.5,838.3 452.6,824.1 460.7,808 466.7,797.9 472.8,793.8 480.9,797.9 486.9,798.9 495,789.8 503.1,782.7 509.1,781.7 517.2,783.3 523.3,787.8 529.3,797.9 535.4,812 540.5,822.1 547.5,827.2 554.6,827.2 563.7,824.1 569.7,821.1 576.8,824.1 584.9,832.2 589.9,830.8 598.1,827.2 605.2,823.1 612.2,810 618.3,799.9 623.3,797.9 629.4,803.9 636.5,809 643.5,815 650.6,828.2 658.7,839.3 664.7,844.7 672.8,843.3 678.9,845.3 684.9,835.2 693,818.1 701.1,801.9 709.2,790.8 717.3,784.7 722.3,787.8 729.4,799.9 737.5,816.1 745.6,830.2 753.6,840.3 762.7,845.9 769.8,835.2 777.9,822.1 784.9,813.6 794,811 806.2,808 814.2,795.8 822.3,788.8 829.4,787.4 836.5,791.8 844.5,792.8 849.6,795.8 856.7,789.8 861.7,786.8 868.8,788.8 874.8,793.8 880.9,805.9 884.9,817.1 890.1,826.2 897.1,835.2 903.2,841.3 908.2,832.2 915.3,816.1 922.4,809 927.4,809.4 935.5,816.1 945.6,817.1 953.7,821.1 960.8,829.2 967.8,837.3 975.9,843.3 986,845.3 996.1,846.4 1006.2,850.4 1011.3,839.3 1018.3,822.1 1026.4,808 1034.5,797.9 1042.6,790.8 1048.6,784.7 1056.7,781.7 1063.8,778.7 1070.9,784.7 1078.9,787.8 1084,788.8 1091.1,797.9 1097.1,805.9 1104.2,808 1109.2,801.9 1116.3,792.8 1123.4,784.7 1131.5,779.7 1139.5,776.7 1149.6,775.6 1159.7,772.6 1167.8,772.6 1175.9,772.6 1179.9,772.6 1188.3,772.4 1193.5,772.4 1199.8,781.7 1207,791.1 1215.4,800.5 1221.6,809.8 1226.8,809.8 1234.1,801.5 1241.4,794.2 1246.6,792.1 1252.8,800.5 1259.1,808.8 1264.3,816.7 1269.5,816.1 1275.7,808.8 1284,794.2 1292.4,784.9 1300.7,781.3 1304.8,780.7 1311.1,788 1315.2,795.3 1321.5,798.4 1327.7,796.3 1335,793.2 1342.3,795.3 1348.5,802.6 1354.8,815 1361,829.6 1369.3,840 1377.7,847.3 1387,852.5 1396.4,851.4 1402.6,848.3 1408.9,839 1415.1,832.7 1422.4,828.6 1427.6,825.4 1432.8,829.6 1439.1,831.7 1445.3,828.6 1450.5,823.4" stroke="#ecec00"/>
<polyline points="4,845.3 12.1,832.2 20.2,816.1 28.3,799.9 36.4,795.4 42.4,801.9 50.5,808 56.6,811 61.6,809 66.7,795.8 70.7,789.8 74.7,787.8 79.8,795.8 84.8,808 90.9,817.1 99,818.1 105.1,823.1 111.1,832.2 117.2,838.3 121.2,836.3 126.3,842.3 133.3,836.3 141.4,835.2 149.5,834.2 155.6,824.1 159.6,803.9 163.6,795.8 167.7,795.8 172.7,803.9 177.8,822.1 182.8,836.3 187.9,836.3 191.9,831.2 197,838.3 202,842.3 206.1,830.2 211.1,825.1 216.2,828.2 224.2,825.1 232.3,817.1 238.4,797.9 244.4,783.7 250.5,775.6 256.6,774.6 262.6,771.6 266.7,768.6 271.7,775.6 276.8,779.7 282.8,773.6 288.9,771.6 292.9,783.7 294.9,790.8 298,808 303.1,824.1 310.2,838.3 317.2,851.4 322.3,845.3 329.3,843.3 334.4,836.3 340.5,822.1 346.5,813.6 351.6,824.1 355.6,829.2 359.6,827.2 365.7,836.3 373.8,845.3 381.9,848.4 387.9,853.4 394,852.4 402.1,853.4 412.2,858.5 416.2,850.4 424.3,847.4 430.4,846.4 435,850.4 439.4,842.3 444.5,824.1 449.5,808 454.6,808 458.6,795.8 464.7,785.7 468.7,785.7 474.8,789.8 478.8,799.9 481.9,810 486.9,799.9 494,783.7 501.1,775.6 507.1,778.7 513.2,785.3 518.2,785.7 523.3,795.8 529.3,814 534.4,830.2 538.4,839.3 543.5,835.2 547.5,836.3 552.6,828.2 557.6,822.1 562.7,821.1 567.3,812 571.8,821.1 576.8,832.2 580.9,841.3 585.9,836.3 589.9,830.2 598.1,822.1 604.1,818.1 610.2,795.8 617.3,785.3 622.3,792.8 627.4,810 631.4,816.1 635.5,812 640.5,822.1 646.6,837.3 650.6,840.3 655.7,849.4 663.7,854 668.8,845.3 673.8,842.3 678.9,848.4 682.9,836.3 689,812 695.1,793.8 701.1,782.7 706.2,779.7 711.2,780.7 716.9,774.6 720.3,789.8 725.4,810 731.4,830.2 735.5,834.2 740.5,837.3 746.6,847.4 753.6,851.4 759.7,855.4 763.7,846.4 768.8,826.2 773.8,814 779.9,805.9 786,803.5 790,808 796.1,810 801.1,804.9 806.2,803.9 812.2,787.8 818.3,781.3 824.3,781.7 829.4,785.7 834.4,794.8 838.5,798.9 842.5,793.8 847.6,799.9 852.6,789.8 857.7,781.7 861.7,776.7 865.8,791.8 872.8,799.9 877.9,814 882.9,832.2 884.9,837.3 889,844.3 894.1,842.3 899.1,850.4 904.2,846.4 908.2,816.1 913.3,799.9 917.9,791.8 922.4,799.9 927.4,810 932.5,820.1 938.5,822.1 944.6,815 949.6,824.1 955.7,828.2 960.8,838.3 965.8,846.4 972.9,850 979.9,847.4 990.1,846.8 998.1,847.4 1006.2,852.4 1010.3,832.2 1015.3,805.9 1020.4,794.8 1026.4,792.4 1032.5,789.8 1036.5,786.4 1040.6,787.8 1044.6,780.7 1048.6,774.6 1052.7,781.7 1056.7,775.6 1061.8,774.6 1065.8,787.8 1071.9,792.8 1076.9,793.8 1082,789.8 1087,797.9 1092.1,808 1096.1,818.1 1100.2,821.1 1104.2,808 1108.2,793.8 1113.3,782.7 1119.3,775.6 1124.4,772.6 1128.4,779.7 1132.5,773.6 1139.5,772.2 1145.6,772.6 1149.6,774.6 1155.7,769.6 1160.8,770.6 1165.8,773.6 1170.9,776.7 1175.9,771.6 1179.9,773.2 1186.2,771.3 1189.4,768.2 1193.5,768.8 1197.7,792.1 1202.9,799.4 1208.1,800.5 1213.3,808.8 1218.5,819.2 1222.7,824.4 1226.8,808.8 1233.1,796.3 1239.3,788 1245.5,782.8 1249.7,798.4 1254.9,813 1260.1,823.4 1264.3,834.8 1268.4,819.2 1273.6,796.3 1279.9,782.8 1287.2,774 1292.4,776.1 1302.8,776.1 1306.9,788 1312.1,802.6 1315.7,814 1320.4,802.6 1325.7,794.2 1330.9,791.1 1335,784.9 1339.2,796.3 1344.4,808.8 1349.6,821.3 1354.8,837.9 1360,847.3 1365.2,850.4 1373.5,853.5 1380.8,855 1387,858.7 1390.2,851.4 1395.4,848.7 1400.6,848.3 1404.7,835.8 1408.9,820.2 1414.1,823.4 1419.3,828.6 1423.4,821.3 1428.6,821.3 1432.8,831.7 1437.4,840 1442.2,827.5 1447.4,817.1 1450.5,814" stroke="#ececec"/>
<polyline points="4,845.3 10.1,828.2 16.2,803.9 22.2,783.7 28.3,765.5 33.3,769.6 37.4,772.6 41.4,791.8 45.5,803.9 50.5,812 55.6,821.1 60.6,815 65.7,791.8 69.7,770.6 74.7,771.6 78.8,787.8 83.8,808 88.9,830.2 92.9,838.3 98,831.2 103,835.2 107.1,844.3 112.1,853.4 117.2,858.5 121.2,846.4 125.7,855.4 131.3,842.3 135.4,834.2 140.4,833.2 145.5,840.3 150.5,830.2 154.5,816.1 158.6,777.7 163.2,756.5 167.7,769.6 171.7,791.8 175.8,824.1 179.8,852.4 183.2,867.6 186.9,856.5 191.5,840.3 196,850.4 200.6,856.9 205.1,828.2 210.1,817.1 215.2,827.2 220.2,821.1 225.3,819.1 230.3,804.9 233.3,805.9 236.4,781.7 239.4,759.5 244.4,752.4 251.5,746.4 256.6,753.4 261.6,756.5 266.7,753.4 271.7,773.6 275.8,791.8 279.8,771.6 284.8,767.6 288.9,765.5 292.9,787.8 294.9,801.9 298,842.3 303.1,870.6 309.1,876.7 317.2,886.8 322.3,862.5 328.3,852.4 333.4,842.3 337.4,818.1 342.5,793.8 345.9,789.8 349.5,810 354.6,840.3 359.6,826.2 363.7,842.3 369.7,854.4 374.8,862.5 381.9,859.5 387.9,867.6 392,856.5 397,859.5 402.1,855.4 408.1,862.5 412.2,867.6 416.2,845.3 420.3,850.4 426.3,839.3 431.4,845.3 435,854.4 438.4,842.3 441.5,818.1 445.5,783.7 449.5,765.5 453.6,780.7 457.6,761.5 463.3,750.4 467.7,757.5 472.8,775.6 476.8,791.8 480.9,830.2 485.9,805.9 491,777.7 496,761.5 500.7,756.5 505.1,769.6 510.2,780.7 516.2,787.8 521.3,797.9 526.3,824.1 531.4,856.5 538.4,882.7 543.5,856.5 547.5,852.4 552.6,828.2 557.6,818.1 562.7,816.1 566.7,793.8 570.8,816.1 574.8,840.3 579.8,863.5 584.9,846.4 589.9,826.2 596.1,814 604.1,803.9 608.2,769.6 612.2,756.5 617.3,756.5 621.3,773.6 625.4,805.9 629.4,828.2 631.4,837.3 635.5,821.1 640.5,846.4 645.6,866.6 650.6,867.6 655.7,877.7 660.7,873.6 664.7,871.6 668.8,846.4 672.8,838.3 675.9,844.3 678.9,853.4 682.9,824.1 687,783.7 692,761.5 697.1,743.3 702.1,746.4 707.2,752.4 711.2,760.5 716.3,755.4 719.3,779.7 723.3,816.1 728.4,850.4 734.4,874.6 738.5,867.6 743.5,872.6 748.6,877.7 752.6,871.6 758.7,876.7 762.7,856.5 767.8,805.9 772.8,787.8 777.9,778.7 784.9,779.7 790,801.9 796.1,807 801.1,797.9 805.2,800.9 809.2,771.6 814.2,758.5 819.3,758.5 824.3,769.6 828.4,777.7 833.4,802.9 838.5,809 842.5,797.9 847,813 851.6,783.7 856.7,771.6 860.7,759.5 864.7,791.8 871.8,808 876.9,824.1 881.9,864.5 884.9,874.6 889,883.7 894.1,864.5 898.1,873.6 902.2,860.5 905.2,824.1 909.2,783.7 914.3,757.5 917.9,753.4 921.4,779.7 926.4,803.9 930.5,826.2 935.5,836.3 940.6,830.2 944.6,810 949.6,830.2 955.7,844.3 959.7,856.5 964.4,870.6 969.8,866.6 973.9,865.5 978.9,854.4 984,848.4 990.1,848.4 995.1,850.4 998.1,848.4 1002.2,857.5 1006.2,860.5 1009.2,820.1 1013.3,773.6 1017.3,753.4 1020.4,748.8 1024.4,755.4 1029.4,768.6 1034.5,764.5 1039.5,776.7 1043.6,761.5 1048.2,754.4 1051.7,777.7 1055.7,765.5 1061.8,765.1 1064.8,783.7 1068.8,797.9 1072.9,809 1076.9,803.9 1082,790.8 1087,805.9 1092.1,818.1 1095.1,842.3 1098.1,845.3 1102.2,828.2 1106.2,791.8 1110.3,767.6 1115.3,754.4 1120.4,750.4 1124.4,753.4 1128.4,769.6 1132.5,761.5 1137.5,764.5 1142.6,766.6 1147.6,778.7 1151.7,765.5 1156.1,759.5 1160.8,769.6 1165.8,773.6 1169.8,780.7 1174.9,769.6 1179.9,775.6 1185.2,771.3 1189.4,764.1 1193.5,766.1 1195.6,794.2 1198.7,825.4 1202.9,830.6 1207,818.2 1211.2,824.4 1214.3,840 1218.5,852.5 1222.7,849.4 1224.7,827.5 1228.9,794.2 1234.1,777.6 1239.3,768.2 1244.9,764.1 1247.6,781.7 1250.7,815 1253.9,837.9 1259.1,848.3 1264.3,872.3 1267.4,844.2 1271.6,794.2 1276.8,763 1282,750.5 1286.5,746 1291.3,755.7 1296.5,764.1 1301.7,770.3 1304.8,781.7 1309,804.6 1313.2,833.8 1315.7,849.4 1319.4,823.4 1323.6,796.3 1328.8,791.1 1334.4,768.2 1338.1,788 1343.3,821.3 1348.5,833.8 1352.7,862.9 1357.9,883.7 1362.1,883.7 1366.2,877.5 1371.4,874.3 1376.6,868.1 1381.8,867.1 1386,872.3 1390.2,848.3 1395.4,843.1 1399.5,846.2 1403.7,827.5 1407.8,786.9 1413,798.4 1418.2,823.4 1422.4,805.7 1427.6,810.9 1431.8,840 1437,854.6 1441.1,831.7 1446.3,806.7 1452.6,795.3" stroke="#e000e0"/>
</g>
<text x="3" y="30.5" fill="#d0d0d0" textLength="72" lengthAdjust="spacingAndGlyphs" style="font-family:'Liberation Sans','Noto Sans CJK SC',sans-serif;font-size:18px">上证指数</text>
<text x="80.1" y="30.5" fill="#d0d0d0" textLength="37" lengthAdjust="spacingAndGlyphs" style="font-family:'Liberation Sans','Noto Sans CJK SC',sans-serif;font-size:18px">日线</text>
<text x="120.8" y="30.5" fill="#d0d0d0" textLength="54.5" lengthAdjust="spacingAndGlyphs" style="font-family:'Liberation Sans','Noto Sans CJK SC',sans-serif;font-size:18px">前复权</text>
<text x="75.3" y="29.6" fill="#d0d0d0" style="font-size:18px">(</text>
<rect x="118" y="28.6" width="1.8" height="1.8" fill="#d0d0d0"/>
<text x="175.3" y="29.6" fill="#d0d0d0" style="font-size:18px">)</text>
<path d="M198.4 14.6l7.5 9h-4.3v7.5h-6.4v-7.5h-4.3z" fill="#ff0000"/>
<text x="210.4" y="29.3" fill="#f0f0f0" textLength="110.3" lengthAdjust="spacing" style="font-size:18.0px">MA5: 2884.50</text>
<text x="329" y="29.3" fill="#ecec00" textLength="120.8" lengthAdjust="spacing" style="font-size:18.0px">MA10: 2892.88</text>
<text x="458" y="29.3" fill="#f000f0" textLength="121.5" lengthAdjust="spacing" style="font-size:18.0px">MA20: 2915.62</text>
<text x="586.7" y="29.3" fill="#00e800" textLength="132.2" lengthAdjust="spacing" style="font-size:18.0px">MA250: 2809.23</text>
<text x="2.5" y="555.8" fill="#e4e4e4" textLength="200.5" lengthAdjust="spacing" style="font-size:18.0px">VOLUME: 198958816.00</text>
<text x="212" y="555.8" fill="#e4e4e4" textLength="162.9" lengthAdjust="spacing" style="font-size:18.0px">MA5: 196707216.00</text>
<text x="382.9" y="555.8" fill="#ecec00" textLength="173.2" lengthAdjust="spacing" style="font-size:18.0px">MA10: 211910976.00</text>
<text x="2.5" y="731.7" fill="#c4c4c4" textLength="86.6" lengthAdjust="spacing" style="font-size:18.0px">KDJ(9,3,3)</text>
<text x="96.3" y="731.7" fill="#e4e4e4" textLength="67.3" lengthAdjust="spacing" style="font-size:18.0px">K: 50.68</text>
<text x="171.5" y="731.7" fill="#ecec00" textLength="68.9" lengthAdjust="spacing" style="font-size:18.0px">D: 41.32</text>
<text x="247.9" y="731.7" fill="#f000f0" textLength="64.2" lengthAdjust="spacing" style="font-size:18.0px">J: 69.39</text>
</svg>
<div class="topbar"></div><div class="tb" style="left:580px;width:59px"></div><div class="tb" style="left:647px;width:59px"></div>
<div style="position:absolute;left:2.5px;top:0;width:25.5px;height:7px;background:#d0d0d0"></div><div style="position:absolute;left:3.2px;top:0;width:24.3px;height:1.1px;background:#fcfcfc"></div>
<div class="lstrip"></div>
</body></html>
